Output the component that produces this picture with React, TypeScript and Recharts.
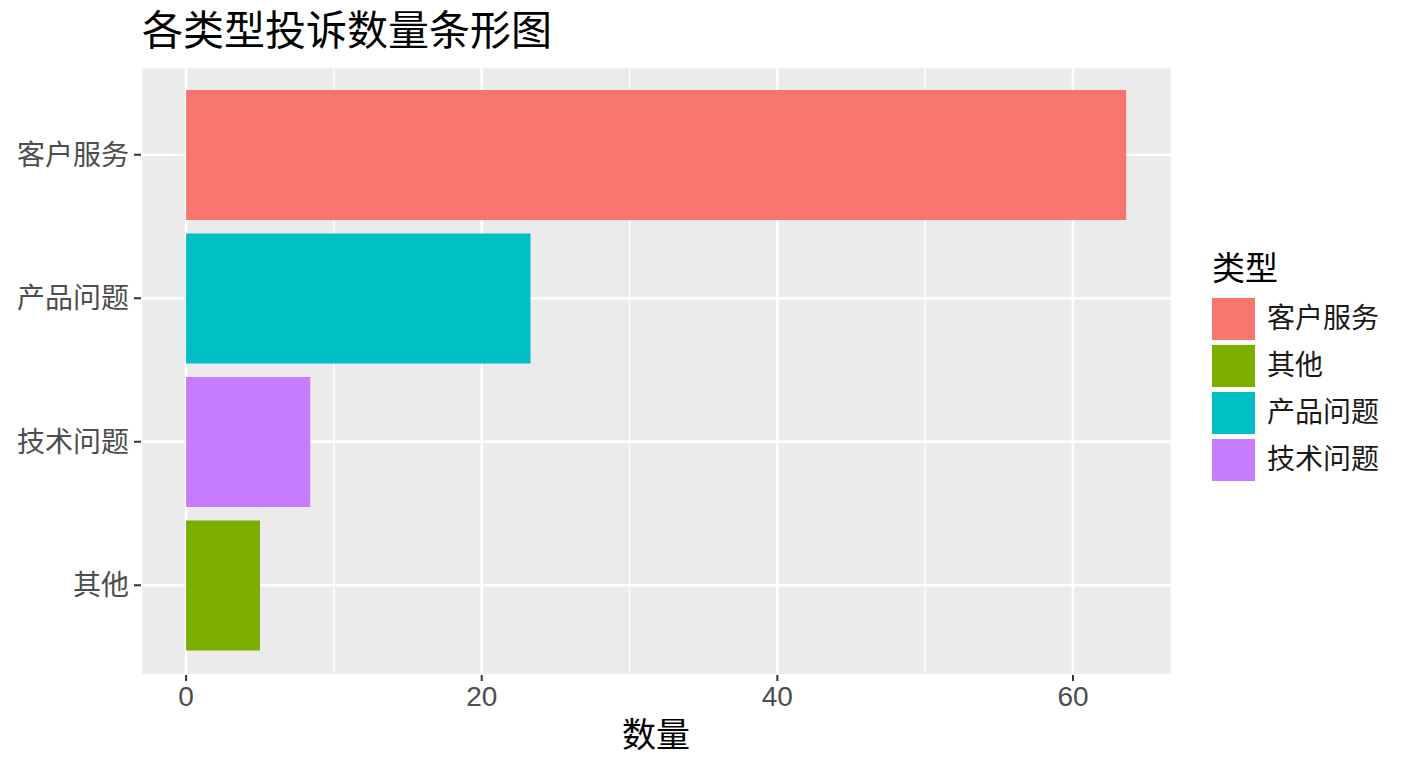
import React from 'react';
import {
  BarChart,
  Bar,
  XAxis,
  YAxis,
  CartesianGrid,
  Cell,
  Legend,
} from 'recharts';

// ---- data ----
const categories = ['客户服务', '产品问题', '技术问题', '其他'];
const counts = [63.6, 23.3, 8.4, 5.0];
const xTicks = [0, 20, 40, 60];
const xMinorTicks = [10, 30, 50];
const xDomain: [number, number] = [-3.05, 66.7];
const legendTitle = '类型';
const legendOrder = ['客户服务', '其他', '产品问题', '技术问题'];
const colorOf: Record<string, string> = {
  客户服务: '#F8766D',
  其他: '#7CAE00',
  产品问题: '#00BFC4',
  技术问题: '#C77CFF',
};
const chartTitle = '各类型投诉数量条形图';
const xTitle = '数量';

const data = categories.map((name, i) => ({ name, value: counts[i] }));

const FONT = '"Liberation Sans", Arial, "Noto Sans CJK SC", sans-serif';

const minorGen = (props: any) => {
  const scale = props?.xAxis?.scale;
  if (typeof scale === 'function') return xMinorTicks.map((v) => scale(v));
  const off = props.offset;
  return xMinorTicks.map(
    (v) => off.left + ((v - xDomain[0]) / (xDomain[1] - xDomain[0])) * off.width
  );
};

const LegendContent = () => (
  <div style={{ fontFamily: FONT }}>
    <div style={{ fontSize: 33, lineHeight: '38px', color: '#000', height: 38 }}>
      {legendTitle}
    </div>
    <div style={{ marginTop: 7.5 }}>
      {legendOrder.map((k) => (
        <div
          key={k}
          style={{ display: 'flex', alignItems: 'center', height: 47 }}
        >
          <div style={{ width: 43, height: 42, background: colorOf[k] }} />
          <div
            style={{
              marginLeft: 12,
              fontSize: 28,
              lineHeight: '32px',
              color: '#1A1A1A',
            }}
          >
            {k}
          </div>
        </div>
      ))}
    </div>
  </div>
);

export default function App() {
  return (
    <div
      style={{
        position: 'absolute',
        left: 0,
        top: 0,
        width: 1408,
        height: 768,
        background: '#fff',
        fontFamily: FONT,
      }}
    >
      <div
        style={{
          position: 'absolute',
          left: 142,
          top: 10,
          fontSize: 41,
          lineHeight: '42px',
          color: '#000',
          whiteSpace: 'nowrap',
        }}
      >
        {chartTitle}
      </div>
      <BarChart
        width={1408}
        height={768}
        data={data}
        layout="vertical"
        margin={{ top: 67, right: 236, bottom: 53, left: 0 }}
      >
        <CartesianGrid
          fill="#EBEBEB"
          stroke="#FFFFFF"
          strokeWidth={2.6}
        />
        <CartesianGrid
          horizontal={false}
          stroke="#FFFFFF"
          strokeWidth={1.3}
          verticalCoordinatesGenerator={minorGen}
        />
        <XAxis
          type="number"
          domain={xDomain}
          ticks={xTicks}
          allowDataOverflow
          axisLine={false}
          tickLine={{ stroke: '#333333', strokeWidth: 2 }}
          tickSize={6}
          tickMargin={5}
          height={40}
          tick={{ fill: '#4D4D4D', fontSize: 28, fontFamily: FONT }}
        />
        <YAxis
          type="category"
          dataKey="name"
          width={141}
          axisLine={false}
          tickLine={{ stroke: '#333333', strokeWidth: 2 }}
          tickSize={7}
          tickMargin={5}
          padding={{ top: 16, bottom: 18 }}
          tick={{ fill: '#4D4D4D', fontSize: 28, fontFamily: FONT }}
        />
        <Legend
          layout="vertical"
          align="center"
          verticalAlign="middle"
          wrapperStyle={{ position: 'absolute', left: 1212, top: 250, width: 190 }}
          content={() => <LegendContent />}
        />
        <Bar dataKey="value" barSize={130} isAnimationActive={false}>
          {data.map((d) => (
            <Cell key={d.name} fill={colorOf[d.name]} />
          ))}
        </Bar>
      </BarChart>
      <div
        style={{
          position: 'absolute',
          left: 656,
          top: 716,
          transform: 'translateX(-50%)',
          fontSize: 34,
          lineHeight: '38px',
          color: '#000',
          whiteSpace: 'nowrap',
        }}
      >
        {xTitle}
      </div>
    </div>
  );
}
